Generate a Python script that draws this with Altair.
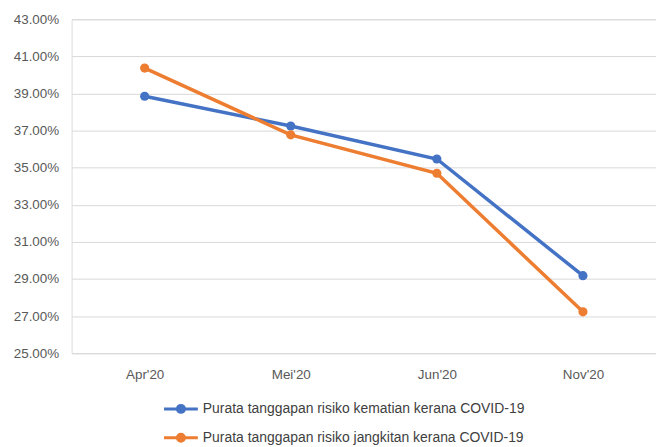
import altair as alt
import pandas as pd

months = ["Apr'20", "Mei'20", "Jun'20", "Nov'20"]
series_names = [
    "Purata tanggapan risiko kematian kerana COVID-19",
    "Purata tanggapan risiko jangkitan kerana COVID-19",
]
kematian = [0.3885, 0.3725, 0.3547, 0.2918]
jangkitan = [0.4037, 0.3677, 0.3470, 0.2723]
colors = ["#4472C4", "#ED7D31"]
y_ticks = [0.25, 0.27, 0.29, 0.31, 0.33, 0.35, 0.37, 0.39, 0.41, 0.43]

rows = []
for i, m in enumerate(months):
    rows.append({"month": m, "series": series_names[0], "value": kematian[i], "order": 0})
for i, m in enumerate(months):
    rows.append({"month": m, "series": series_names[1], "value": jangkitan[i], "order": 1})
df = pd.DataFrame(rows)

FONT = "Liberation Sans"
TEXT = "#595959"

x_enc = alt.X(
    "month:N",
    sort=months,
    title=None,
    scale=alt.Scale(type="point", padding=0.5),
    axis=alt.Axis(labelAngle=0, domain=False, ticks=False, grid=False,
                  labelPadding=14, labelFontSize=13.5, labelColor=TEXT, labelFont=FONT),
)
y_enc = alt.Y(
    "value:Q",
    title=None,
    scale=alt.Scale(domain=[0.25, 0.43], nice=False, zero=False),
    axis=alt.Axis(values=y_ticks, format=".2%", domain=False, ticks=False,
                  gridColor="#D9D9D9", gridWidth=1, labelPadding=13,
                  labelFontSize=13.5, labelColor=TEXT, labelFont=FONT),
)

# line with a dot in the middle (concentric stroked circles make a solid dot)
sym_path = ("M-3.4,0L3.4,0"
            "M-0.7,0A0.7,0.7,0,1,1,0.7,0A0.7,0.7,0,1,1,-0.7,0"
            "M-0.3,0A0.3,0.3,0,1,1,0.3,0A0.3,0.3,0,1,1,-0.3,0")

legend = alt.Legend(
    title=None, orient="none", direction="vertical",
    legendX=103, legendY=385,
    symbolType=sym_path, symbolSize=100, symbolStrokeWidth=3,
    labelOffset=15, labelFontSize=14, labelColor="#404040", labelFont=FONT,
    labelLimit=0, rowPadding=9,
)

lines = alt.Chart(df).mark_line(strokeWidth=3.5).encode(
    x=x_enc,
    y=y_enc,
    color=alt.Color("series:N", sort=series_names,
                    scale=alt.Scale(domain=series_names, range=colors), legend=legend),
    order=alt.Order("order:Q"),
    detail="series:N",
)

points = alt.Chart(df).mark_circle(size=85, opacity=1).encode(
    x=x_enc,
    y=y_enc,
    color=alt.Color("series:N", sort=series_names,
                    scale=alt.Scale(domain=series_names, range=colors), legend=legend),
)

chart = alt.layer(lines, points).properties(
    width=588, height=336,
    padding={"left": 5, "top": 3, "right": 0, "bottom": 0},
).configure_view(stroke=None).configure(background="white")

chart.save("out.html", embed_options={"renderer": "svg", "actions": False})
